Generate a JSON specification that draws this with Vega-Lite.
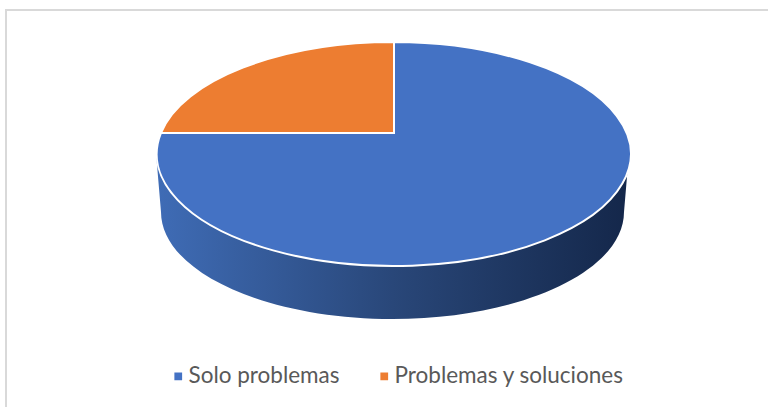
{
  "$schema": "https://vega.github.io/schema/vega-lite/v6.json",
  "width": 764,
  "height": 399,
  "autosize": "none",
  "padding": {"left": 6, "top": 10, "right": 0, "bottom": 0},
  "background": "white",
  "view": {"stroke": "#d9d9d9", "strokeWidth": 2, "fill": "white"},
  "data": {"values": [
    {"categoria": "Solo problemas", "valor": 76},
    {"categoria": "Problemas y soluciones", "valor": 24}
  ]},
  "layer": [
    {
      "transform": [{"filter": "datum.categoria === 'Solo problemas'"}],
      "mark": {
        "type": "point",
        "filled": true,
        "opacity": 1,
        "size": 4,
        "shape": "M-232,-56.5 L-227,2.5 A231.5,107 0 0 0 236,2.5 L241,-56.5 Z",
        "fill": {
          "gradient": "linear",
          "x1": 0, "y1": 0, "x2": 1, "y2": 0,
          "stops": [
            {"offset": 0, "color": "#3f6cb6"},
            {"offset": 0.5, "color": "#294779"},
            {"offset": 1, "color": "#14274a"}
          ]
        }
      },
      "encoding": {}
    },
    {
      "mark": {"type": "point", "filled": true, "opacity": 1, "size": 4, "stroke": "white", "strokeWidth": 2},
      "encoding": {
        "color": {
          "field": "categoria",
          "type": "nominal",
          "scale": {"domain": ["Solo problemas", "Problemas y soluciones"], "range": ["#4472c4", "#ed7d31"]},
          "legend": null
        },
        "shape": {
          "field": "categoria",
          "type": "nominal",
          "scale": {
            "domain": ["Solo problemas", "Problemas y soluciones"],
            "range": [
              "M6,-76.5 L6,-167.5 A237,112 0 1 1 -227,-76.5 Z",
              "M6,-76.5 L-227,-76.5 A237,112 0 0 1 6,-167.5 Z"
            ]
          },
          "legend": null
        }
      }
    },
    {
      "mark": {"type": "point", "filled": true, "opacity": 0, "size": 0, "shape": "square"},
      "encoding": {
        "fill": {
          "field": "categoria",
          "type": "nominal",
          "scale": {"domain": ["Solo problemas", "Problemas y soluciones"], "range": ["#4472c4", "#ed7d31"]},
          "legend": {
            "title": null,
            "orient": "none",
            "legendX": 161,
            "legendY": 355,
            "direction": "horizontal",
            "columns": 2,
            "symbolType": "square",
            "symbolSize": 60,
            "symbolStrokeWidth": 0,
            "symbolOpacity": 1,
            "labelFont": "Lato",
            "labelFontSize": 22.5,
            "labelColor": "#595959",
            "labelOffset": -1,
            "columnPadding": 33,
            "labelLimit": 400
          }
        }
      }
    }
  ],
  "resolve": {"scale": {"color": "independent", "fill": "independent", "shape": "independent"}}
}
